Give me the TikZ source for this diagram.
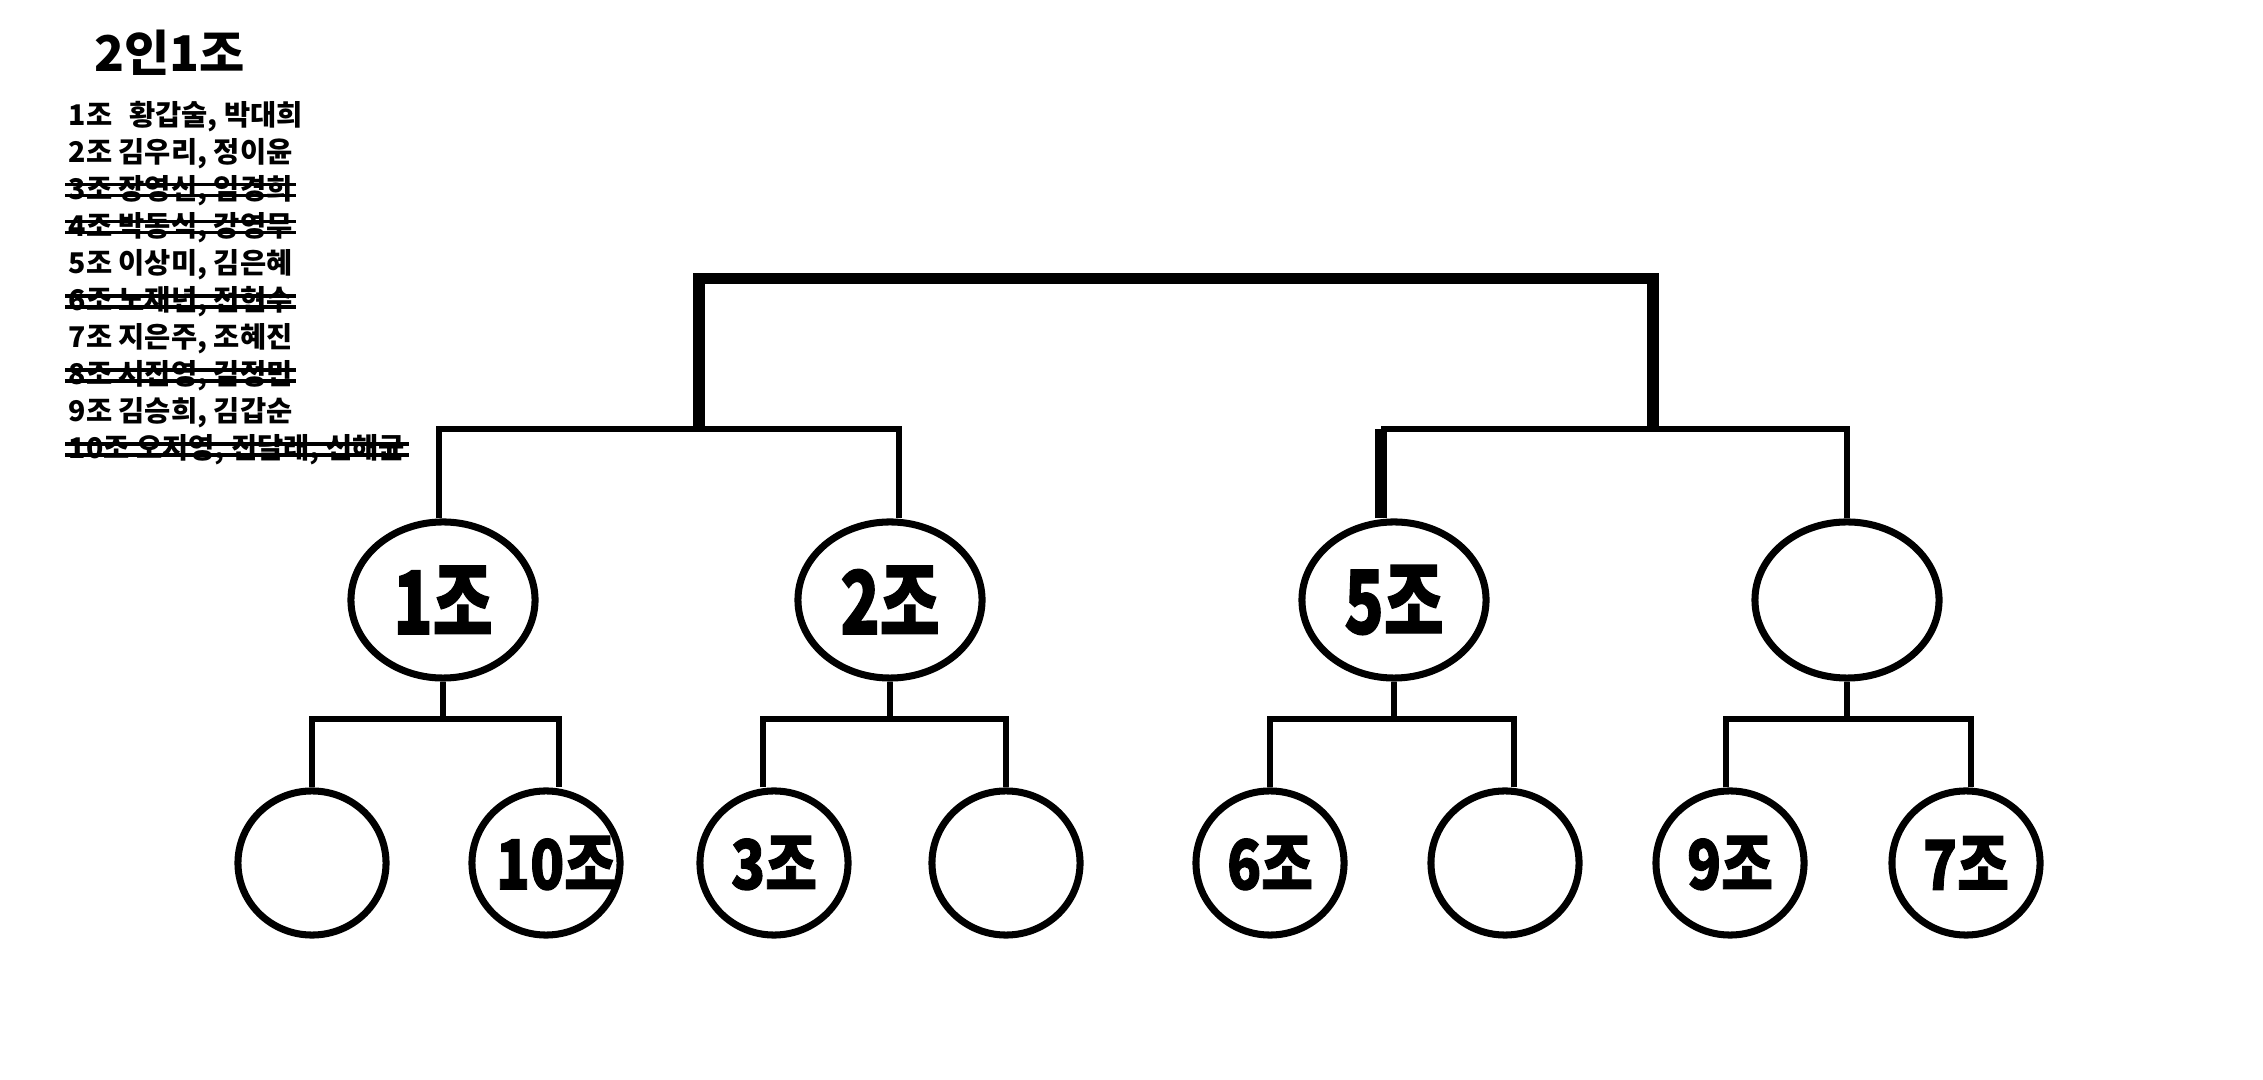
\documentclass[tikz,border=0pt]{standalone}
\usepackage{graphicx}
\usepackage{fontspec}
\newfontfamily\kr{Noto Sans CJK KR}
\newfontfamily\krheavy{Noto Sans CJK KR}[BoldFeatures={FakeBold=1.5}]
\usetikzlibrary{shapes.geometric,calc}
\newcommand\mynarrow[2]{\scalebox{#1}[1]{#2}}
\tikzset{
  conn/.style={line width=1.8pt,line join=miter},
  thickconn/.style={line width=3.4pt,line join=miter},
  bigov/.style={ellipse,draw,line width=2pt,minimum width=1.84cm,minimum height=1.56cm,inner sep=0pt},
  smallov/.style={ellipse,draw,line width=2pt,minimum width=1.48cm,minimum height=1.44cm,inner sep=0pt},
  biglbl/.style={font=\krheavy\bfseries\fontsize{25}{25}\selectfont,inner sep=0pt},
  smalllbl/.style={font=\krheavy\bfseries\fontsize{19.5}{19.5}\selectfont,inner sep=0pt},
  titlef/.style={font=\kr\bfseries\fontsize{14}{14}\selectfont,inner sep=0pt},
  rowf/.style={font=\kr\bfseries\fontsize{8.1}{8.1}\selectfont,inner sep=0pt,anchor=base west},
  strike/.style={line width=1pt},
}
\begin{document}
\begin{tikzpicture}[x=0.01cm,y=-0.01cm]
\fill[white] (0,0) rectangle (2263,1080);
\useasboundingbox (0,0) rectangle (2263,1080);

% title and list
\node[titlef] (title) at (170,53) {2인1조};
\node[rowf] (r1) at (68,125.5) {1조\hspace{0.6em}황갑술, 박대희};
\node[rowf] (r2) at (68,162.5) {2조 김우리, 정이윤};
\node[rowf] (r3) at (68,199.6) {3조 장영신, 임경희};
\node[rowf] (r4) at (68,236.6) {4조 박동식, 강영무};
\node[rowf] (r5) at (68,273.7) {5조 이상미, 김은혜};
\node[rowf] (r6) at (68,310.8) {6조 노재년, 전현수};
\node[rowf] (r7) at (68,347.8) {7조 지은주, 조혜진};
\node[rowf] (r8) at (68,384.9) {8조 서진영, 김정민};
\node[rowf] (r9) at (68,421.9) {9조 김승희, 김갑순};
\node[rowf] (r10) at (68,459) {10조 오지영, 진달래, 신해균};
\foreach \r in {r3,r4,r6,r8,r10}{
  \draw[strike] ($(\r.base west)+(-3,-15)$) -- ($(\r.base east)+(3,-15)$);
  \draw[strike] ($(\r.base west)+(-3,-4)$) -- ($(\r.base east)+(3,-4)$);
}

% levels
\coordinate (lv1) at (0,278.5);
\coordinate (lv2) at (0,428.7);
\coordinate (lv3) at (0,719);
\coordinate (m1) at (698.6,428.7);
\coordinate (m2) at (1652.6,428.7);

% second level
\node[bigov,label={[biglbl]center:\mynarrow{0.74}{1조}}] (p1) at (443,600) {};
\node[bigov,label={[biglbl]center:\mynarrow{0.74}{2조}}] (p2) at (890,600) {};
\node[bigov,label={[biglbl]center:\mynarrow{0.74}{5조}}] (p3) at (1394,600) {};
\node[bigov] (p4) at (1847,600) {};

% third level
\node[smallov] (c1) at (312,863) {};
\node[smallov,label={[smalllbl,xshift=0.1cm]center:\mynarrow{0.82}{10조}}] (c2) at (546,863) {};
\node[smallov,label={[smalllbl]center:\mynarrow{0.82}{3조}}] (c3) at (774,863) {};
\node[smallov] (c4) at (1006,863) {};
\node[smallov,label={[smalllbl]center:\mynarrow{0.82}{6조}}] (c5) at (1270,863) {};
\node[smallov] (c6) at (1505,863) {};
\node[smallov,label={[smalllbl]center:\mynarrow{0.82}{9조}}] (c7) at (1730,863) {};
\node[smallov,label={[smalllbl]center:\mynarrow{0.82}{7조}}] (c8) at (1966,863) {};

% lower brackets
\draw[conn] (c1.north) |- (p1.south |- lv3) -| ([xshift=0.13cm]c2.north);
\draw[conn] (p1.south) -- (p1.south |- lv3);
\draw[conn] ([xshift=-0.11cm]c3.north) |- (p2.south |- lv3) -| (c4.north);
\draw[conn] (p2.south) -- (p2.south |- lv3);
\draw[conn] (c5.north) |- (p3.south |- lv3) -| ([xshift=0.09cm]c6.north);
\draw[conn] (p3.south) -- (p3.south |- lv3);
\draw[conn] ([xshift=-0.04cm]c7.north) |- (p4.south |- lv3) -| ([xshift=0.05cm]c8.north);
\draw[conn] (p4.south) -- (p4.south |- lv3);

% middle brackets
\draw[conn] ([xshift=-0.04cm]p1.north) |- (m1) -| ([xshift=0.09cm]p2.north);
\draw[conn] ([xshift=-0.13cm]p3.north |- lv2) -| (p4.north);
\draw[thickconn] ([xshift=-0.13cm]p3.north) -- ([xshift=-0.13cm]p3.north |- lv2);

% top bracket
\draw[thickconn] (m1) -- (m1 |- lv1) -- (m2 |- lv1) -- (m2);
\end{tikzpicture}
\end{document}
